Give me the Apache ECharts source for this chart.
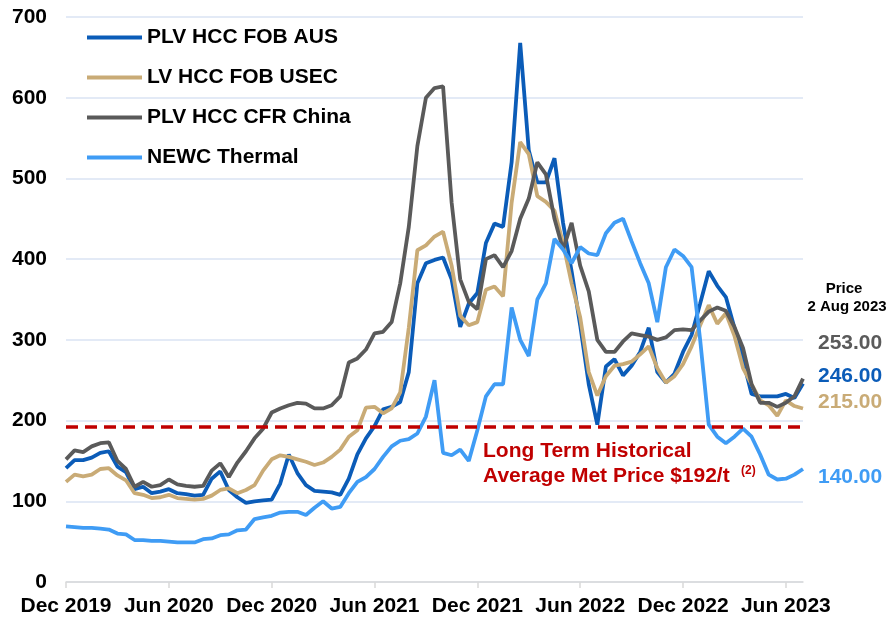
<!DOCTYPE html>
<html>
<head>
<meta charset="utf-8">
<script src="https://cdn.jsdelivr.net/npm/echarts@6/dist/echarts.min.js"></script>
<style>
html, body { margin: 0; padding: 0; background: #fff; }
#main { width: 891px; height: 617px; }
</style>
</head>
<body>
<div id="main"></div>
<script>
// half-month steps from Dec 2019 to Jul 2023
var monthNames = ['Jan','Feb','Mar','Apr','May','Jun','Jul','Aug','Sep','Oct','Nov','Dec'];
var tickLabels = ['Dec 2019','Jun 2020','Dec 2020','Jun 2021','Dec 2021','Jun 2022','Dec 2022','Jun 2023'];

var dates = [];
for (var i = 0; i < 87; i++) {
    var m = 11 + Math.floor(i / 2);
    dates.push(monthNames[m % 12] + ' ' + (2019 + Math.floor(m / 12)) + (i % 2 ? ' b' : ''));
}

var plvAus = [141,151,151,154,160,162,143,136,115,118,
    110,112,115,110,109,107,108,128,137,114,
    105,98,100,101,102,122,158,135,120,113,
    112,111,108,128,158,178,193,214,217,223,
    260,370,395,399,402,375,316,345,358,420,
    444,440,520,668,535,495,495,525,445,385,
    318,245,195,267,276,256,268,285,315,260,
    247,258,285,306,345,385,367,353,315,275,
    233,230,230,230,233,228,246];

var lvUsec = [124,133,131,133,140,141,132,126,110,108,
    104,105,108,104,103,102,103,107,114,116,
    110,114,120,138,152,157,155,152,149,145,
    148,155,164,180,188,216,217,209,215,235,
    315,411,417,428,434,392,330,318,322,362,
    366,354,470,545,530,478,471,460,420,370,
    328,260,231,255,268,270,273,282,292,265,
    247,255,270,292,318,343,320,333,305,265,
    245,225,219,206,225,218,215];

var plvChina = [152,163,161,168,172,173,150,140,118,124,
    118,120,127,121,119,118,119,138,147,130,
    148,162,178,190,210,215,219,222,221,215,
    215,219,230,272,277,288,308,310,322,370,
    440,540,600,612,614,470,375,347,338,400,
    405,390,410,450,475,520,505,450,412,445,
    392,360,300,285,285,298,308,306,304,300,
    303,312,313,312,324,335,340,336,316,290,
    245,222,222,217,222,230,252];

var newcThermal = [69,68,67,67,66,65,60,59,52,52,
    51,51,50,49,49,49,53,54,58,59,
    64,65,78,80,82,86,87,87,83,92,
    100,91,93,110,124,130,140,155,168,175,
    177,184,205,250,160,157,164,150,188,230,
    245,245,340,300,280,350,370,425,412,395,
    415,407,405,432,445,450,422,395,370,322,
    390,412,404,390,300,195,180,172,180,190,
    180,158,133,127,128,133,140];

var seriesNames = ['PLV HCC FOB AUS', 'LV HCC FOB USEC', 'PLV HCC CFR China', 'NEWC Thermal'];
var colors = ['#0b5cb8', '#c9ab76', '#5a5a5a', '#3f9cf5'];
var latest = ['246.00', '215.00', '253.00', '140.00'];
var histAvg = 192;

var font = "'Liberation Sans', Arial, sans-serif";
var myChart = echarts.init(document.getElementById('main'));

function line(name, data, color) {
    return {
        name: name,
        type: 'line',
        data: data,
        symbol: 'none',
        color: color,
        lineStyle: { width: 3.8, color: color },
        animation: false
    };
}

var series = [
    line(seriesNames[0], plvAus, colors[0]),
    line(seriesNames[1], lvUsec, colors[1]),
    line(seriesNames[2], plvChina, colors[2]),
    line(seriesNames[3], newcThermal, colors[3])
];
series[0].markLine = {
    silent: true,
    symbol: ['none', 'none'],
    label: { show: false },
    lineStyle: { color: '#c00000', type: [12, 7], width: 3.5 },
    data: [{ yAxis: histAvg }]
};

var option = {
    backgroundColor: '#fff',
    animation: false,
    grid: { left: 66, right: 88, top: 17, bottom: 35 },
    legend: {
        orient: 'vertical',
        left: 82,
        top: 22,
        icon: 'rect',
        itemWidth: 55,
        itemHeight: 4,
        itemGap: 19,
        textStyle: { fontFamily: font, fontSize: 21, fontWeight: 'bold', color: '#000' },
        data: seriesNames
    },
    xAxis: {
        type: 'category',
        data: dates,
        boundaryGap: false,
        axisLine: { lineStyle: { color: '#d9d9d9', width: 1.5 } },
        axisTick: { show: true, interval: 11, length: 6, lineStyle: { color: '#d9d9d9', width: 1.5 } },
        axisLabel: {
            interval: 11,
            margin: 14,
            fontFamily: font, fontSize: 21, fontWeight: 'bold', color: '#000',
            formatter: function (val, idx) { return tickLabels[idx / 12] || ''; }
        },
        splitLine: { show: false }
    },
    yAxis: {
        type: 'value',
        min: 0,
        max: 700,
        interval: 100,
        axisLine: { show: false },
        axisTick: { show: false },
        axisLabel: { margin: 19, fontFamily: font, fontSize: 21, fontWeight: 'bold', color: '#000' },
        splitLine: { lineStyle: { color: '#dae3f3', width: 1.5 } }
    },
    graphic: [
        {
            type: 'text', left: 483, top: 439,
            style: {
                text: 'Long Term Historical\nAverage Met Price $192/t',
                fill: '#c00000', font: 'bold 21px ' + font, lineHeight: 25
            }
        },
        { type: 'text', left: 741, top: 465, style: { text: '(2)', fill: '#c00000', font: 'bold 12px ' + font } },
        { type: 'text', x: 844, y: 289, style: { text: 'Price', fill: '#000', font: 'bold 15px ' + font, align: 'center', verticalAlign: 'middle' } },
        { type: 'text', x: 847, y: 307, style: { text: '2 Aug 2023', fill: '#000', font: 'bold 15px ' + font, align: 'center', verticalAlign: 'middle' } },
        { type: 'text', x: 818, y: 343, style: { text: latest[2], fill: colors[2], font: 'bold 21px ' + font, verticalAlign: 'middle' } },
        { type: 'text', x: 818, y: 376, style: { text: latest[0], fill: colors[0], font: 'bold 21px ' + font, verticalAlign: 'middle' } },
        { type: 'text', x: 818, y: 402, style: { text: latest[1], fill: colors[1], font: 'bold 21px ' + font, verticalAlign: 'middle' } },
        { type: 'text', x: 818, y: 477, style: { text: latest[3], fill: colors[3], font: 'bold 21px ' + font, verticalAlign: 'middle' } }
    ],
    series: series
};

myChart.setOption(option);
</script>
</body>
</html>
